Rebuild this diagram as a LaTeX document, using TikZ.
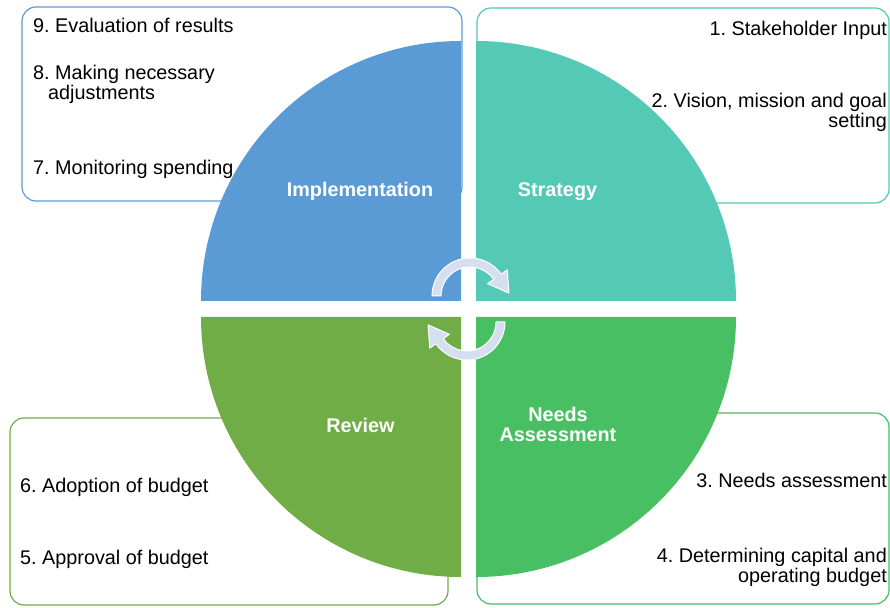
\documentclass[tikz,border=0pt]{standalone}
\usepackage{fontspec}
\setmainfont{Liberation Sans}
\usepackage{xcolor}
\usepackage{tikz}
\frenchspacing
\definecolor{implblue}{HTML}{5B9BD5}
\definecolor{stratteal}{HTML}{53C9B6}
\definecolor{reviewgreen}{HTML}{70AD47}
\definecolor{needsgreen}{HTML}{48BF63}
\definecolor{arrowfill}{HTML}{D6DFF0}
\tikzset{
    stepbox/.style={rounded corners=14pt, line width=1.2pt},
    phase/.style={text=white, font=\fontsize{19.8}{20}\selectfont\bfseries, align=center, inner sep=0pt},
    item/.style={font=\fontsize{19.8}{20}\selectfont, inner sep=0pt},
    % the two turning arrows in the middle of the wheel
    cyclearrow/.style={fill=arrowfill, draw=white, line width=1pt, line join=round},
}

\begin{document}
\begin{tikzpicture}[x=1pt, y=1pt]
    \useasboundingbox (0,0) rectangle (890,607);

    \draw[stepbox, draw=implblue] (22,406) rectangle (462,600);
    \draw[stepbox, draw=stratteal] (477,404) rectangle (889,599);
    \draw[stepbox, draw=reviewgreen] (10,2) rectangle (448,189);
    \draw[stepbox, draw=needsgreen] (477,3) rectangle (889,194);

    \fill[implblue] (461,306) -- ++(0,260) arc[start angle=90, end angle=180, radius=260] -- cycle;
    \fill[stratteal] (476,306) -- ++(260,0) arc[start angle=0, end angle=90, radius=260] -- cycle;
    \fill[reviewgreen] (461,290) -- ++(-260,0) arc[start angle=180, end angle=270, radius=260] -- cycle;
    \fill[needsgreen] (476,290) -- ++(0,-260) arc[start angle=270, end angle=360, radius=260] -- cycle;

    \foreach \cx/\cy/\rot in {470/311/0, 467/285/180}
        \draw[cyclearrow, shift={(\cx,\cy)}, rotate=\rot]
            (180:38) arc[start angle=180, end angle=35, radius=38]
            -- (35:45.5) -- (4.2:39) -- (35:21.5) -- (35:29)
            arc[start angle=35, end angle=180, radius=29] -- cycle;

    % two-line nodes sit on the baseline of their last line
    \node[phase, anchor=base] (impl) at (360,410) {Implementation};
    \node[phase, anchor=base] (strat) at (557.5,410) {Strategy};
    \node[phase, anchor=base] (review) at (360.5,174) {Review};
    \node[phase, anchor=base] (needs) at (558,165) {Needs\\Assessment};

    \node[item, anchor=base east] (n1) at (887,571) {1. Stakeholder Input};
    \node[item, anchor=base east, align=right] (n2) at (887,479) {2. Vision, mission and goal\\setting};
    \node[item, anchor=base east] (n3) at (887,119) {3. Needs assessment};
    \node[item, anchor=base east, align=right] (n4) at (887,25) {4. Determining capital and\\operating budget};
    \node[item, anchor=base west] (n5) at (20,42) {5. Approval of budget};
    \node[item, anchor=base west] (n6) at (20,114) {6. Adoption of budget};
    \node[item, anchor=base west] (n7) at (33,432) {7. Monitoring spending};
    \node[item, anchor=base west, align=left] (n8) at (33,507) {8. Making necessary\\\hspace*{15pt}adjustments};
    \node[item, anchor=base west] (n9) at (33,574) {9. Evaluation of results};

\end{tikzpicture}
\end{document}
